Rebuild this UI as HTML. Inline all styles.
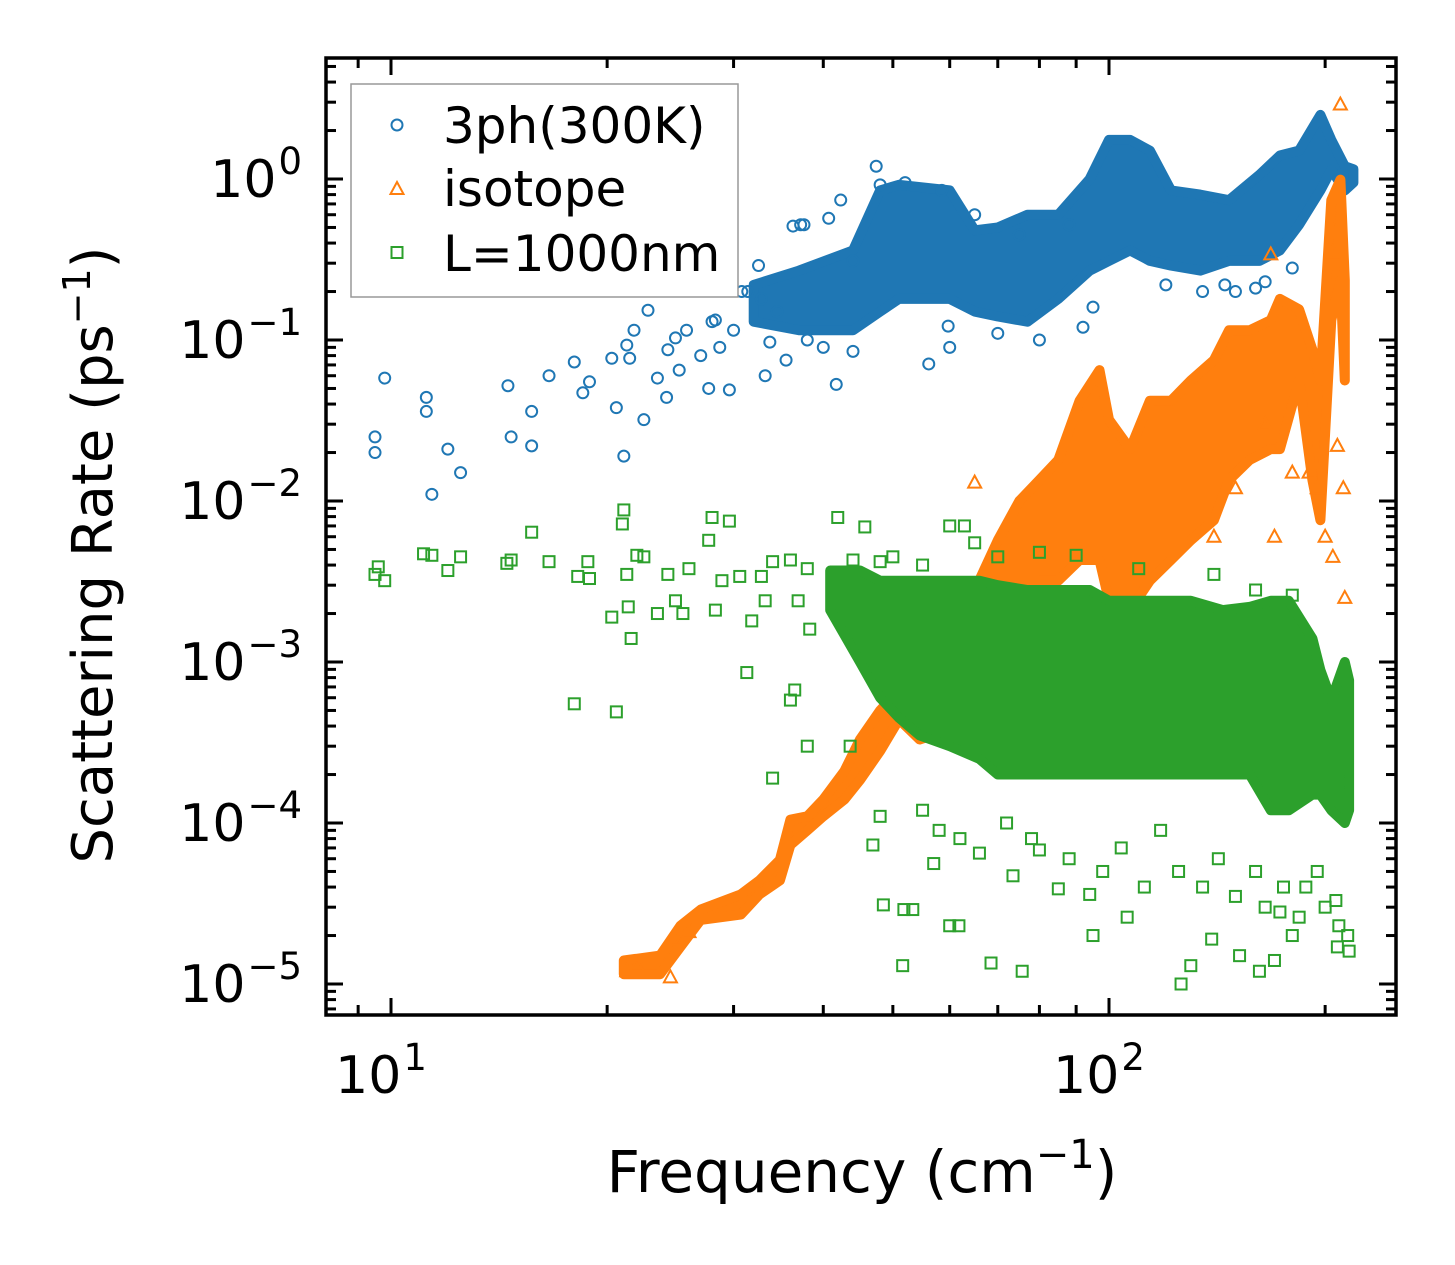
<!DOCTYPE html>
<html><head><meta charset="utf-8"><style>
html,body{margin:0;padding:0;background:#fff;}
svg{display:block;font-family:"DejaVu Sans","Liberation Sans",sans-serif;}
</style></head><body>
<svg id="chart" width="1455" height="1265" viewBox="0 0 1455 1265" xmlns="http://www.w3.org/2000/svg">
<rect x="0" y="0" width="1455" height="1265" fill="#fff"/>
<g id="plot"></g>
<g id="axes"></g>
<g id="legend">
 <rect x="351" y="84" width="387" height="213" fill="#fff" stroke="#999" stroke-width="1.5"/>
 <circle cx="397" cy="125" r="5.5" fill="none" stroke="#1f77b4" stroke-width="2"/>
 <text x="443" y="143" font-size="50">3ph(300K)</text>
 <path d="M397,182 L403.5,194 L390.5,194 Z" fill="none" stroke="#ff7f0e" stroke-width="2"/>
 <text x="443" y="206" font-size="50">isotope</text>
 <rect x="391.5" y="247" width="11" height="11" fill="none" stroke="#2ca02c" stroke-width="2"/>
 <text x="443" y="271" font-size="50">L=1000nm</text>
</g>
<text x="862" y="1192" font-size="58" text-anchor="middle">Frequency (cm<tspan dy="-24" font-size="40">−1</tspan><tspan dy="24">)</tspan></text>
<text transform="translate(112,555) rotate(-90)" font-size="56" text-anchor="middle">Scattering Rate (ps<tspan dy="-22" font-size="38">−1</tspan><tspan dy="22">)</tspan></text>
</svg>
<script>
// ---- data ----
const blueFreq = [9.5,9.5,9.8,11.2,11.2,11.4,12.0,12.5,14.55,14.7,15.7,15.7,16.6,18.0,18.5,18.9,20.3,20.6,21.1,21.3,21.5,21.8,22.5,23.5,24.2,24.3,22.8,24.9,25.2,25.8,27.0,27.7,28.0,28.3,28.7,29.6,30.0,30.8,31.4,32.5,32.8,33.2,33.7,34.5,35.5,36.3,37.2,37.6,40.7,41.7,42.3,44,47.4,48,56.1,59.7,52,58.5,65,75,88,92,95,120,135,145,150,160,165,180,38,40,44,60,70,80];
const blueRate = [0.025,0.02,0.058,0.044,0.036,0.011,0.021,0.015,0.052,0.025,0.036,0.022,0.06,0.073,0.047,0.055,0.077,0.038,0.019,0.093,0.077,0.115,0.032,0.058,0.044,0.087,0.153,0.103,0.065,0.115,0.08,0.05,0.13,0.133,0.09,0.049,0.115,0.2,0.2,0.29,0.18,0.06,0.097,0.15,0.075,0.51,0.52,0.52,0.57,0.053,0.74,0.31,1.2,0.92,0.071,0.122,0.95,0.85,0.6,0.45,0.52,0.12,0.16,0.22,0.2,0.22,0.2,0.21,0.23,0.28,0.1,0.09,0.085,0.09,0.11,0.1];
const blueBandFreq = [32,37,44,48,51,60,65,70,77,85,94,100,107,114,122,134,147,162,173,184,197,204,213,219];
const blueBandHi = [0.22,0.27,0.36,0.85,0.92,0.85,0.48,0.5,0.6,0.6,1.0,1.75,1.75,1.5,0.85,0.8,0.74,1.06,1.4,1.5,2.5,1.75,1.2,1.15];
const blueBandLo = [0.13,0.115,0.115,0.15,0.18,0.18,0.15,0.14,0.13,0.18,0.27,0.31,0.36,0.31,0.29,0.27,0.31,0.31,0.36,0.52,0.85,1.14,0.85,0.95];

const isoFreq = [65,165,195,200,205,212,213,208,190,150,140,125,180,170,168,210,205,207,21.3,22,24.5,25,26];
const isoRate = [0.013,0.03,0.012,0.006,0.0045,0.012,0.0025,0.022,0.015,0.012,0.006,0.02,0.015,0.006,0.34,2.9,0.35,0.5,1.2e-5,1.3e-5,1.1e-5,1.9e-5,2.1e-5];
const isoBandFreq = [21.1,23.7,25.3,27,30.7,32.6,34.8,36,38,40,42.8,45,48,51,54.5,60,64,70,75,80,85,91,97,100,107,114,122,130,140,147,157,168,173,184,192,197,204,210,213];
const isoBandHi = [1.4e-5,1.5e-5,2.3e-5,2.9e-5,3.6e-5,4.4e-5,5.9e-5,1.05e-4,1.1e-4,1.4e-4,2.1e-4,3.3e-4,5e-4,6.7e-4,1.0e-3,1.8e-3,2.4e-3,5.7e-3,0.01,0.0135,0.018,0.042,0.065,0.032,0.021,0.042,0.042,0.056,0.075,0.115,0.115,0.133,0.18,0.155,0.087,0.056,0.74,0.99,0.235];
const isoBandLo = [1.15e-5,1.15e-5,1.7e-5,2.5e-5,2.7e-5,3.6e-5,4.4e-5,7.3e-5,9e-5,1.1e-4,1.4e-4,1.85e-4,2.8e-4,4.4e-4,3.3e-4,3.8e-4,5.8e-4,1.4e-3,2.4e-3,3.2e-3,3.2e-3,4.3e-3,4.3e-3,2.4e-3,2.1e-3,3.2e-3,4.3e-3,5.7e-3,7.6e-3,0.0135,0.018,0.021,0.021,0.056,0.0135,7.6e-3,0.133,0.235,0.056];

const bndFreq = [9.5,9.6,9.8,11.1,11.4,12.0,12.5,14.5,14.7,15.7,16.6,18.0,18.2,18.8,18.9,20.3,20.6,21.0,21.1,21.3,21.4,21.6,22,22.5,23.5,24.3,24.9,25.5,26,27.7,28.0,28.3,28.9,29.6,30.6,31.3,31.8,32.8,33.2,34,36,36.5,36.9,38,38.3,41.9,43.6,45.7,46.9,48,48.5,51.6,51.8,53.3,60,61.8,68.5,75.7,73.5,80,85,94,95,106,126,130,139,152,162,170,173,184,195,208,207,209,55,58,62,66,72,78,88,98,104,112,118,125,135,142,150,160,165,175,180,188,200,215,216,214,57,60,62.9,65,70,80,90,110,140,160,180,50,55,44,48,36,38,34];
const bndRate = [3.5e-3,3.9e-3,3.2e-3,4.7e-3,4.6e-3,3.7e-3,4.5e-3,4.1e-3,4.3e-3,6.4e-3,4.2e-3,5.5e-4,3.4e-3,4.2e-3,3.3e-3,1.9e-3,4.9e-4,7.2e-3,8.8e-3,3.5e-3,2.2e-3,1.4e-3,4.6e-3,4.5e-3,2.0e-3,3.5e-3,2.4e-3,2e-3,3.8e-3,5.7e-3,7.9e-3,2.1e-3,3.2e-3,7.5e-3,3.4e-3,8.6e-4,1.8e-3,3.4e-3,2.4e-3,1.9e-4,5.8e-4,6.7e-4,2.4e-3,3.0e-4,1.6e-3,7.9e-3,3.0e-4,6.9e-3,7.3e-5,1.1e-4,3.1e-5,1.3e-5,2.9e-5,2.9e-5,2.3e-5,2.3e-5,1.35e-5,1.2e-5,4.7e-5,6.8e-5,3.9e-5,3.6e-5,2e-5,2.6e-5,1.0e-5,1.3e-5,1.9e-5,1.5e-5,1.2e-5,1.4e-5,2.8e-5,2.6e-5,5e-5,1.7e-5,3.3e-5,2.3e-5,1.2e-4,9e-5,8e-5,6.5e-5,1e-4,8e-5,6e-5,5e-5,7e-5,4e-5,9e-5,5e-5,4e-5,6e-5,3.5e-5,5e-5,3e-5,4e-5,2e-5,4e-5,3e-5,2e-5,1.6e-5,1.8e-4,5.6e-5,7e-3,7e-3,5.5e-3,4.5e-3,4.8e-3,4.6e-3,3.8e-3,3.5e-3,2.8e-3,2.6e-3,4.5e-3,4e-3,4.3e-3,4.2e-3,4.3e-3,3.8e-3,4.2e-3];
const bndBandFreq = [40.9,45,48,51,54.5,60,66,70,77,85,94,100,107,118,130,144,157,168,178,192,197,204,213,216];
const bndBandHi = [3.7e-3,3.7e-3,3.2e-3,3.2e-3,3.2e-3,3.2e-3,3.2e-3,3.0e-3,2.8e-3,2.8e-3,2.8e-3,2.4e-3,2.4e-3,2.4e-3,2.4e-3,2.1e-3,2.2e-3,2.4e-3,2.4e-3,1.4e-3,8.9e-4,5.8e-4,1.0e-3,7.7e-4];
const bndBandLo = [2.1e-3,1.0e-3,6e-4,4.5e-4,3.5e-4,3e-4,2.5e-4,2e-4,2e-4,2e-4,2e-4,2e-4,2e-4,2e-4,2e-4,2e-4,2e-4,1.2e-4,1.2e-4,1.5e-4,1.5e-4,1.2e-4,1.0e-4,1.2e-4];

const xTickVals = [10,100];
const xTickLabels = ['1','2'];
const yTickVals = [1,0.1,0.01,0.001,1e-4,1e-5];
const yTickLabels = ['0','−1','−2','−3','−4','−5'];

// ---- axes ----
const L=326,R=1396,T=58,B=1015;
const X0=391,XD=718,Y0=179,YD=161;
function xs(f){return X0+XD*(Math.log10(f)-1);}
function ys(v){return Y0-YD*Math.log10(v);}
const NS='http://www.w3.org/2000/svg';
function mk(tag,attrs,parent){const e=document.createElementNS(NS,tag);for(const k in attrs)e.setAttribute(k,attrs[k]);parent.appendChild(e);return e;}
const plot=document.getElementById('plot');
const axes=document.getElementById('axes');
const cp=mk('clipPath',{id:'clip'},plot);
mk('rect',{x:L,y:T,width:R-L,height:B-T},cp);

function band(fr,hi,lo,color,name){
  let d='';
  for(let i=0;i<fr.length;i++)d+=(i?'L':'M')+xs(fr[i]).toFixed(1)+','+ys(hi[i]).toFixed(1);
  for(let i=fr.length-1;i>=0;i--)d+='L'+xs(fr[i]).toFixed(1)+','+ys(lo[i]).toFixed(1);
  const p=mk('path',{d:d+'Z',fill:color,stroke:color,'stroke-width':10,'stroke-linejoin':'round','clip-path':'url(#clip)'},plot);
  
  
}
function marker(kind,f,v,color,name){
  const x=xs(f),y=ys(v);let e;
  if(kind==='c')e=mk('circle',{cx:x,cy:y,r:5.5,fill:'none',stroke:color,'stroke-width':2},plot);
  else if(kind==='t')e=mk('path',{d:`M${x},${y-7} L${x+6.5},${y+5} L${x-6.5},${y+5} Z`,fill:'none',stroke:color,'stroke-width':2},plot);
  else e=mk('rect',{x:x-5.5,y:y-5.5,width:11,height:11,fill:'none',stroke:color,'stroke-width':2},plot);
  
  
}
band(blueBandFreq,blueBandHi,blueBandLo,'#1f77b4','3ph-dense-band');
blueFreq.forEach((f,i)=>marker('c',f,blueRate[i],'#1f77b4','3ph-point'));
band(isoBandFreq,isoBandHi,isoBandLo,'#ff7f0e','isotope-dense-band');
isoFreq.forEach((f,i)=>marker('t',f,isoRate[i],'#ff7f0e','isotope-point'));
band(bndBandFreq,bndBandHi,bndBandLo,'#2ca02c','boundary-dense-band');
bndFreq.forEach((f,i)=>marker('s',f,bndRate[i],'#2ca02c','boundary-point'));

// frame
const fr=mk('rect',{x:L,y:T,width:R-L,height:B-T,fill:'none',stroke:'#000','stroke-width':3.5},axes);


function tick(x1,y1,x2,y2){mk('line',{x1,y1,x2,y2,stroke:'#000','stroke-width':3},axes);}
for(let dec=1;dec<=100;dec*=10){for(let m=1;m<=9;m++){const f=dec*m;const x=xs(f);if(x<L+2||x>R-2)continue;const len=m===1?17:10;tick(x,B,x,B-len);tick(x,T,x,T+len);}}
for(let e=-6;e<=0;e++){for(let m=1;m<=9;m++){const v=m*Math.pow(10,e);const y=ys(v);if(y<T+2||y>B-2)continue;const len=m===1?17:10;tick(L,y,L+len,y);tick(R,y,R-len,y);}}
xTickVals.forEach((v,i)=>{
  const t=mk('text',{x:xs(v)-10,y:1093,'font-size':52,'text-anchor':'middle'},axes);
  t.innerHTML='10<tspan dx="2" dy="-23" font-size="37">'+xTickLabels[i]+'</tspan>';
  
  
});
yTickVals.forEach((v,i)=>{
  const t=mk('text',{x:302,y:ys(v)+18,'font-size':52,'text-anchor':'end'},axes);
  t.innerHTML='10<tspan dx="2" dy="-23" font-size="37">'+yTickLabels[i]+'</tspan>';
  
  
});
</script>
</body></html>
